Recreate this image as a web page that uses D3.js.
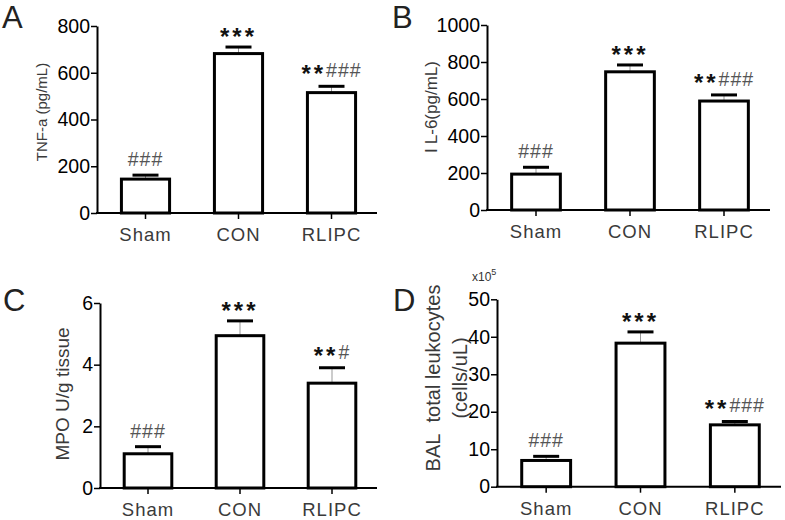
<!DOCTYPE html>
<html><head><meta charset="utf-8">
<script src="https://cdn.jsdelivr.net/npm/d3@7"></script>
<style>
body{margin:0;background:#fff;}
svg{display:block;font-family:"Liberation Sans",Arial,sans-serif;}
</style></head>
<body><svg id="c" width="785" height="520"></svg>
<script>
const categories = ["Sham","CON","RLIPC"];
const tnfMean = [145, 682, 515];
const tnfSem  = [17, 28, 27];
const il6Mean = [194, 747, 589];
const il6Sem  = [37, 37, 33];
const mpoMean = [1.11, 4.94, 3.40];
const mpoSem  = [0.23, 0.48, 0.50];
const balMean = [7.0, 38.3, 16.5];
const balSem  = [1.1, 3.0, 0.9];
const starsA = ["", "***", "**"], hashA = ["###", "", "###"];
const starsB = ["", "***", "**"], hashB = ["###", "", "###"];
const starsC = ["", "***", "**"], hashC = ["###", "", "#"];
const starsD = ["", "***", "**"], hashD = ["###", "", "###"];
const ticksA = [0,200,400,600,800];
const ticksB = [0,200,400,600,800,1000];
const ticksC = [0,2,4,6];
const ticksD = [0,10,20,30,40,50];

const svg = d3.select("#c");

const panels = [
  {letter:"A", lx:2, ly:28, ax:97, x1:377, y0:213, yT:26, max:800, mean:tnfMean, sem:tnfSem, stars:starsA, hash:hashA, ticks:ticksA,
   title:["TNF-a (pg/mL)"], tx:[47], tcy:112, tfs:15},
  {letter:"B", lx:392, ly:28, ax:487, x1:770, y0:210, yT:25, max:1000, mean:il6Mean, sem:il6Sem, stars:starsB, hash:hashB, ticks:ticksB,
   title:["IL-6(pg/mL)"], tx:[437], tcy:107, tfs:17, gapIL:true},
  {letter:"C", lx:3, ly:311, ax:100, x1:377, y0:488, yT:303, max:6, mean:mpoMean, sem:mpoSem, stars:starsC, hash:hashC, ticks:ticksC,
   title:["MPO U/g tissue"], tx:[69], tcy:394, tfs:19},
  {letter:"D", lx:393, ly:311, ax:497, x1:781, y0:486.7, yT:299.3, max:50, mean:balMean, sem:balSem, stars:starsD, hash:hashD, ticks:ticksD,
   title:["BAL\u00a0 total leukocytes","(cells/uL)"], tx:[440,467], tcy:378, tfs:20, exp:true}
];

panels.forEach(p => {
  const g = svg.append("g");
  const x = d3.scaleBand().domain(categories).range([p.ax+2, p.x1+1]).paddingInner(0.45).paddingOuter(0.225);
  const y = d3.scaleLinear().domain([0, p.max]).range([p.y0, p.yT]);

  // panel letter
  g.append("text").attr("x", p.lx).attr("y", p.ly).attr("font-size", 31).attr("fill", "#222").text(p.letter);

  // y axis
  const ya = g.append("g").attr("transform", `translate(${p.ax},0)`)
    .call(d3.axisLeft(y).tickValues(p.ticks).tickSize(6).tickPadding(1).tickSizeOuter(0).tickFormat(d3.format("d")));
  ya.select(".domain").attr("stroke-width", 2).attr("stroke", "#000");
  ya.selectAll(".tick line").attr("stroke-width", 1.5).attr("stroke", "#000");
  ya.selectAll(".tick text").attr("font-size", 19.5).attr("fill", "#000").attr("font-family", "Liberation Sans, Arial, sans-serif");

  // x axis line
  g.append("line").attr("x1", p.ax-1).attr("x2", p.x1).attr("y1", p.y0).attr("y2", p.y0)
    .attr("stroke", "#000").attr("stroke-width", 2);
  categories.forEach(c => {
    const cx = x(c) + x.bandwidth()/2;
    g.append("line").attr("x1", cx).attr("x2", cx).attr("y1", p.y0).attr("y2", p.y0+6)
      .attr("stroke", "#000").attr("stroke-width", 1.5);
    g.append("text").attr("x", cx).attr("y", p.y0+28).attr("text-anchor", "middle")
      .attr("font-size", 18.5).attr("letter-spacing", 1).attr("fill", "#3a3a3a").text(c);
  });

  // bars
  categories.forEach((c, i) => {
    const cx = x(c) + x.bandwidth()/2;
    const top = y(p.mean[i]);
    const cap = y(p.mean[i] + p.sem[i]);
    g.append("line").attr("x1", cx).attr("x2", cx).attr("y1", top).attr("y2", cap)
      .attr("stroke", "#999").attr("stroke-width", 1);
    g.append("line").attr("x1", cx-13).attr("x2", cx+13).attr("y1", cap).attr("y2", cap)
      .attr("stroke", "#000").attr("stroke-width", 3);
    g.append("rect").attr("x", x(c)+1.5).attr("y", top).attr("width", x.bandwidth()-3).attr("height", p.y0 - top)
      .attr("fill", "#fff").attr("stroke", "#000").attr("stroke-width", 3);

    // annotation
    const t = g.append("text").attr("x", cx).attr("text-anchor", "middle");
    if (p.stars[i] && !p.hash[i]) {
      t.attr("y", cap - 2).attr("font-size", 24).attr("font-weight", "bold").attr("letter-spacing", 3)
        .attr("fill", "#111").text(p.stars[i]);
    } else {
      t.attr("y", cap - 9).attr("font-size", 19.5);
      if (p.stars[i]) t.append("tspan").attr("font-size", 24).attr("font-weight", "bold").attr("letter-spacing", 3)
        .attr("dy", 5).attr("fill", "#111").text(p.stars[i]);
      t.append("tspan").attr("dy", p.stars[i] ? -5 : 0).attr("fill", "#555").attr("letter-spacing", 1).text(p.hash[i]);
    }
  });

  // y title
  p.title.forEach((s, k) => {
    const tt = g.append("text").attr("transform", `translate(${p.tx[k]},${p.tcy}) rotate(-90)`)
      .attr("text-anchor", "middle").attr("font-size", p.tfs).attr("fill", "#3a3a3a");
    if (p.gapIL && k === 0) {
      tt.append("tspan").text(s.slice(0, 1));
      tt.append("tspan").attr("dx", 4).text(s.slice(1));
    } else {
      tt.text(s);
    }
  });
  if (p.exp) {
    const e = g.append("text").attr("x", p.ax - 25).attr("y", p.yT - 18).attr("font-size", 12).attr("fill", "#333");
    e.append("tspan").text("x10");
    e.append("tspan").attr("dy", -6).attr("font-size", 9).text("5");
  }
});
</script></body></html>
